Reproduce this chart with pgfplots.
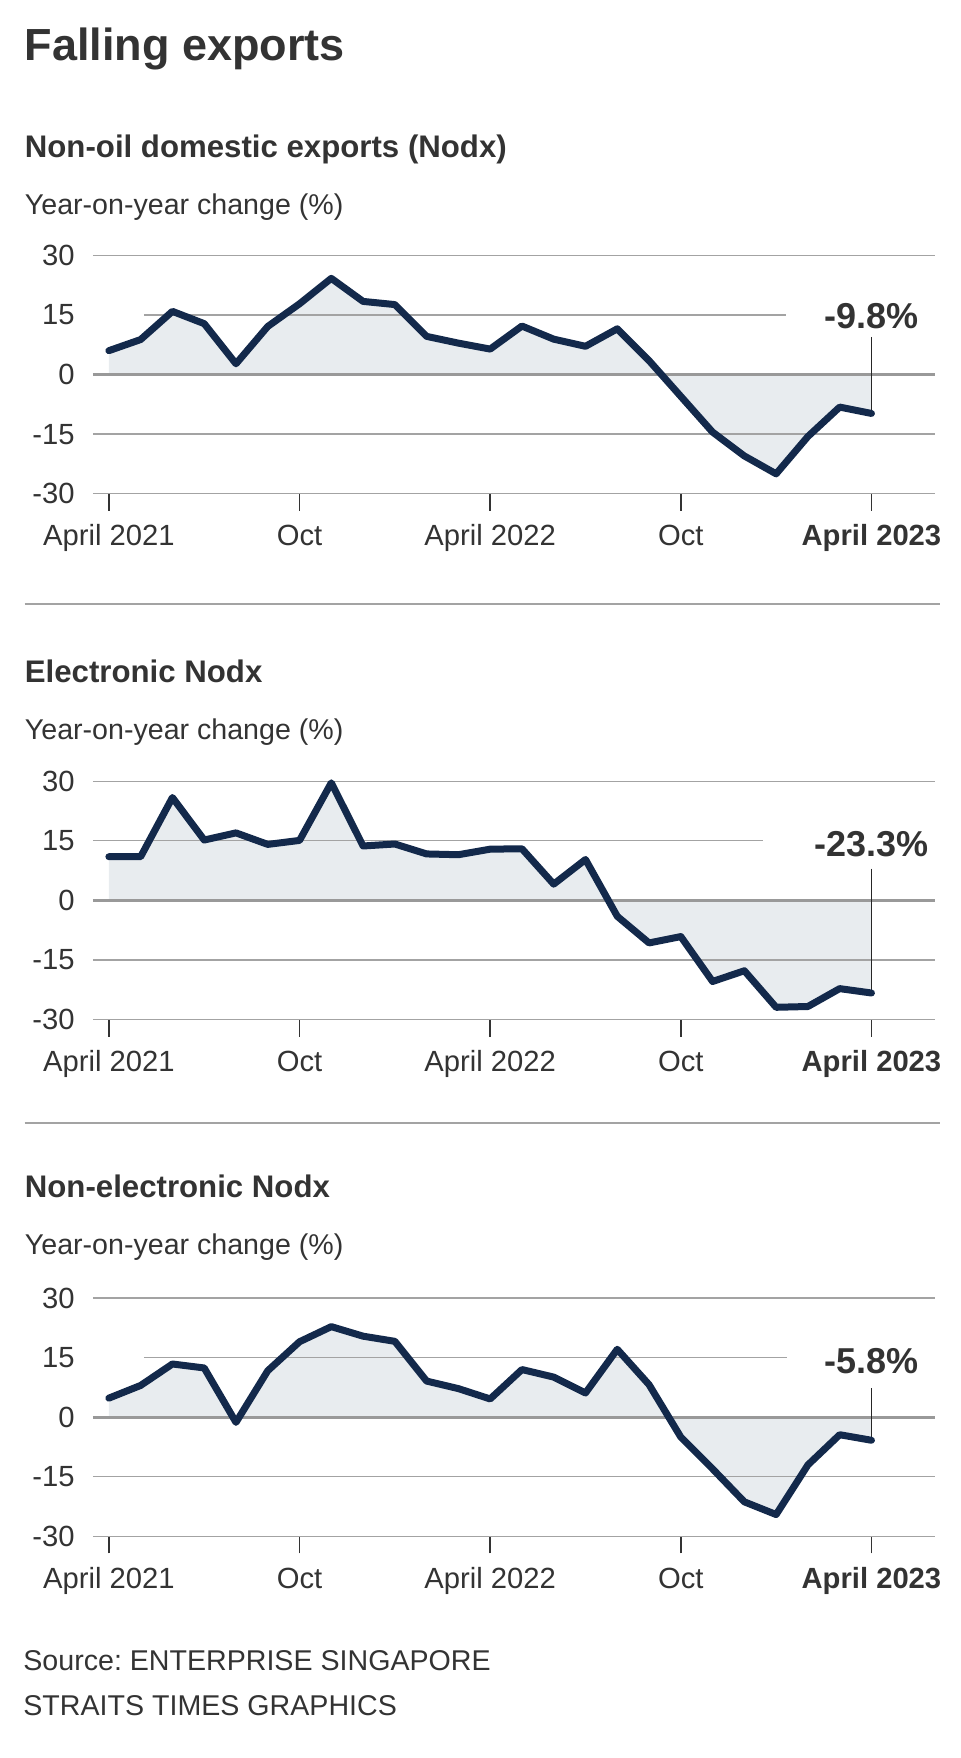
\documentclass[border=0pt]{standalone}
\usepackage{pgfplots}
\pgfplotsset{compat=1.18}
\usepackage{pgfplotstable}
\usepackage{fontspec}
\setmainfont{Liberation Sans}
\frenchspacing

\definecolor{navy}{HTML}{13294B}
\definecolor{areafill}{HTML}{E8ECEF}
\definecolor{ink}{HTML}{333333}
\definecolor{gridc}{HTML}{A3A3A3}
\definecolor{zeroc}{HTML}{999999}

% month index (0 = April 2021) and year-on-year change (%)
\pgfplotstableread{
m v
0 6.0
1 8.8
2 15.9
3 12.8
4 2.7
5 12.1
6 17.8
7 24.2
8 18.4
9 17.6
10 9.6
11 7.9
12 6.4
13 12.2
14 8.9
15 7.1
16 11.5
17 3.5
18 -5.5
19 -14.5
20 -20.5
21 -25.0
22 -15.6
23 -8.2
24 -9.8
}\nodxtab

\pgfplotstableread{
m v
0 11.0
1 11.0
2 25.9
3 15.2
4 17.0
5 14.1
6 15.1
7 29.6
8 13.7
9 14.2
10 11.7
11 11.5
12 12.9
13 13.0
14 4.1
15 10.3
16 -4.0
17 -10.7
18 -9.1
19 -20.4
20 -17.7
21 -26.9
22 -26.7
23 -22.2
24 -23.3
}\electab

\pgfplotstableread{
m v
0 4.8
1 8.0
2 13.4
3 12.4
4 -1.3
5 11.7
6 19.0
7 22.8
8 20.4
9 19.1
10 9.1
11 7.2
12 4.6
13 12.0
14 10.1
15 6.1
16 17.1
17 8.2
18 -5.0
19 -13.0
20 -21.3
21 -24.5
22 -12.0
23 -4.4
24 -5.8
}\nonelectab

\pgfplotsset{
  nodx/.style={
    scale only axis, width=421pt, height=119.2pt,
    anchor=south west,
    xmin=-0.5, xmax=26, ymin=-30, ymax=30,
    axis lines*=left, axis line style={draw=none},
    xtick={0,6,12,18,24},
    xticklabels={April 2021,Oct,April 2022,Oct,\textbf{April 2023}},
    ytick={-30,-15,0,15,30},
    yticklabels={-30,-15,0,15,30},
    ytick style={draw=none},
    xtick style={draw=ink, line width=0.85pt},
    tick align=outside, major tick length=8.5pt,
    ticklabel style={font=\fontsize{14.6}{16}\selectfont, text=ink},
    xticklabel style={anchor=base, yshift=-17.3pt},
    yticklabel style={anchor=east, xshift=2.8pt},
    clip=false,
  },
}
\tikzset{
  grid30/.style={gridc, line width=0.65pt},
  gridzero/.style={zeroc, line width=1.35pt},
  trend/.style={navy, line width=3.5pt, line join=round, line cap=round},
  leader/.style={black!85, line width=0.5pt},
  callout/.style={anchor=base, inner sep=0pt, text=ink,
    font=\fontsize{18}{20}\selectfont\bfseries},
}

\newcommand{\subtitle}[2]{%
  \node[anchor=base west, inner sep=0pt, text=ink,
        font=\fontsize{15.6}{18}\selectfont\bfseries] at (12.25,#1) {#2};}
\newcommand{\unitlabel}[1]{%
  \node[anchor=base west, inner sep=0pt, text=ink,
        font=\fontsize{14.3}{16}\selectfont] at (12.25,#1) {Year-on-year change (\%)};}

\begin{document}
\begin{tikzpicture}[x=1pt,y=1pt]
\useasboundingbox (0,0) rectangle (480,-879);

\node[anchor=base west, inner sep=0pt, text=ink,
      font=\fontsize{22.5}{26}\selectfont\bfseries] at (12.25,-30.25) {Falling exports};

% ---------- Nodx ----------
\subtitle{-78.85}{Non-oil domestic exports (Nodx)}
\unitlabel{-107}
\begin{axis}[nodx, at={(46.5pt,-246.85pt)}]
  \addplot[fill=areafill, draw=none] table[x=m, y=v] {\nodxtab} \closedcycle;
  \draw[grid30] (axis cs:-0.5,30) -- (axis cs:26,30);
  \draw[grid30] (axis cs:1.1,15) -- (axis cs:21.3,15);
  \draw[grid30] (axis cs:-0.5,-15) -- (axis cs:26,-15);
  \draw[grid30] (axis cs:-0.5,-30) -- (axis cs:26,-30);
  \draw[gridzero] (axis cs:-0.5,0) -- (axis cs:26,0);
  \draw[leader] (axis cs:24,9.5) -- (axis cs:24,-9.8);
  \addplot[trend] table[x=m, y=v] {\nodxtab};
  \node[callout] at (axis cs:24,11.5) {-9.8\%};
\end{axis}

\draw[gridc, line width=0.7pt] (12.25,-302) -- (470,-302);

% ---------- Electronic ----------
\subtitle{-341.45}{Electronic Nodx}
\unitlabel{-369.5}
\begin{axis}[nodx, at={(46.5pt,-509.8pt)}]
  \addplot[fill=areafill, draw=none] table[x=m, y=v] {\electab} \closedcycle;
  \draw[grid30] (axis cs:-0.5,30) -- (axis cs:26,30);
  \draw[grid30] (axis cs:-0.5,15) -- (axis cs:20.6,15);
  \draw[grid30] (axis cs:-0.5,-15) -- (axis cs:26,-15);
  \draw[grid30] (axis cs:-0.5,-30) -- (axis cs:26,-30);
  \draw[gridzero] (axis cs:-0.5,0) -- (axis cs:26,0);
  \draw[leader] (axis cs:24,8.0) -- (axis cs:24,-23.3);
  \addplot[trend] table[x=m, y=v] {\electab};
  \node[callout] at (axis cs:24,11.1) {-23.3\%};
\end{axis}

\draw[gridc, line width=0.7pt] (12.25,-561.5) -- (470,-561.5);

% ---------- Non-electronic ----------
\subtitle{-598.5}{Non-electronic Nodx}
\unitlabel{-627.3}
\begin{axis}[nodx, at={(46.5pt,-768.2pt)}]
  \addplot[fill=areafill, draw=none] table[x=m, y=v] {\nonelectab} \closedcycle;
  \draw[grid30] (axis cs:-0.5,30) -- (axis cs:26,30);
  \draw[grid30] (axis cs:1.1,15) -- (axis cs:21.35,15);
  \draw[grid30] (axis cs:-0.5,-15) -- (axis cs:26,-15);
  \draw[grid30] (axis cs:-0.5,-30) -- (axis cs:26,-30);
  \draw[gridzero] (axis cs:-0.5,0) -- (axis cs:26,0);
  \draw[leader] (axis cs:24,7.35) -- (axis cs:24,-5.8);
  \addplot[trend] table[x=m, y=v] {\nonelectab};
  \node[callout] at (axis cs:24,11.0) {-5.8\%};
\end{axis}

\node[anchor=base west, inner sep=0pt, text=ink,
      font=\fontsize{14.3}{16}\selectfont] at (11.5,-835) {Source: ENTERPRISE SINGAPORE};
\node[anchor=base west, inner sep=0pt, text=ink,
      font=\fontsize{14.3}{16}\selectfont] at (11.5,-857.5) {STRAITS TIMES GRAPHICS};
\end{tikzpicture}
\end{document}
